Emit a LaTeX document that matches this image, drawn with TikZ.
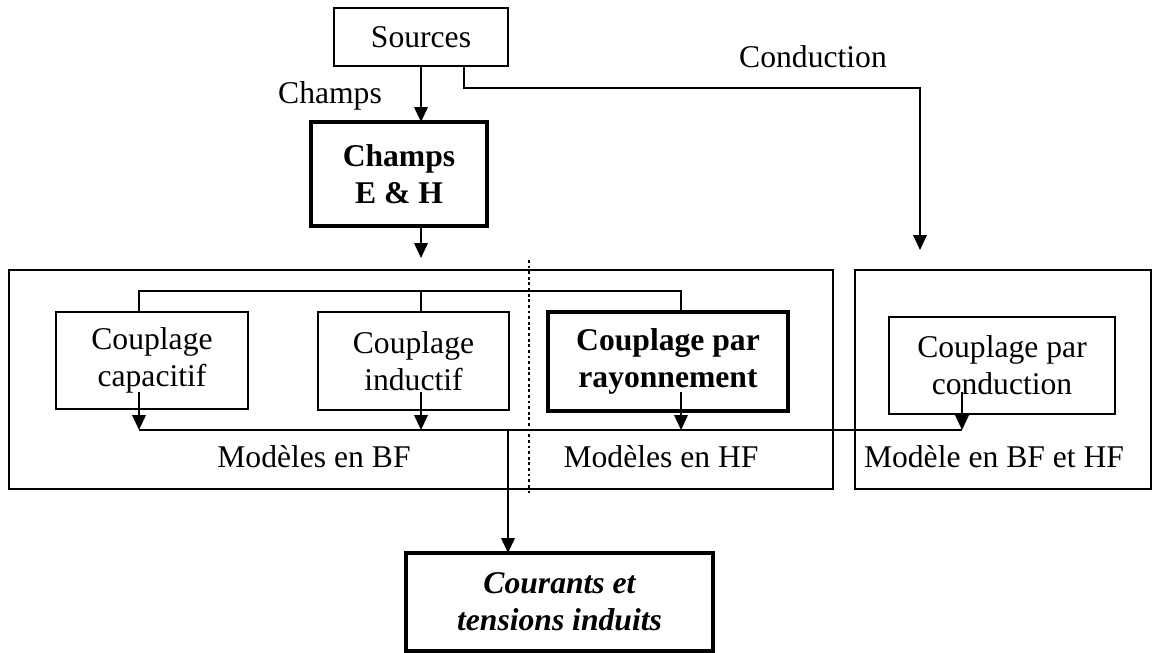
\documentclass[tikz,border=0pt]{standalone}
\usepackage{fontspec}
\setmainfont{Liberation Serif}
\usetikzlibrary{arrows.meta, positioning, calc}

\begin{document}
\begin{tikzpicture}[x=0.02cm, y=-0.02cm,
  every node/.style={font=\fontsize{18}{21}\selectfont, align=center, inner sep=0pt, outer sep=0pt},
  box/.style={draw, line width=1.2pt},
  heavybox/.style={draw, line width=2.5pt, font=\fontsize{18}{21}\selectfont\bfseries},
  link/.style={line width=1.2pt},
  flow/.style={line width=1.2pt, -{Triangle[length=0.3cm, width=0.27cm]}}]
  \useasboundingbox (0,0) rectangle (1155,652);

  % Model zones
  \node[box, minimum width=16.48cm, minimum height=4.38cm] (zoneA) at (421,379.5) {};
  \node[box, minimum width=5.92cm, minimum height=4.38cm] (zoneB) at (1003,379.5) {};
  \draw[line width=1.6pt, dash pattern=on 1.6pt off 1.6pt] (529,260) -- (529,493);

  % Top of the chain
  \node[box, minimum width=3.48cm, minimum height=1.16cm] (src) at (421,37) {Sources};
  \node[heavybox, minimum width=3.52cm, minimum height=2.08cm] (champs) at (399,174) {Champs\\E \& H};
  \node (lblChamps) at (330,96) {Champs};
  \node (lblCond) at (813,57) {Conduction};

  % Coupling modes
  \node[box, minimum width=3.84cm, minimum height=1.94cm] (cap) at (152,360.5) {Couplage\\capacitif};
  \node[box, minimum width=3.82cm, minimum height=1.96cm] (ind) at (413.5,361) {Couplage\\inductif};
  \node[heavybox, minimum width=4.8cm, minimum height=1.98cm] (ray) at (668,361.5) {Couplage par\\rayonnement};
  \node[box, minimum width=4.52cm, minimum height=1.94cm] (cond) at (1002,365.5) {Couplage par\\conduction};

  \node (lblBF) at (314,457) {Modèles en BF};
  \node (lblHF) at (661,457) {Modèles en HF};
  \node (lblBFHF) at (994,457) {Modèle en BF et HF};

  % Result
  \node[heavybox, font=\fontsize{18}{21}\selectfont\bfseries\itshape,
        minimum width=6.14cm, minimum height=1.96cm] (courants) at (559.5,602)
    {Courants et\\tensions induits};

  % Links from the sources
  \coordinate (condTurn) at (464,88);
  \coordinate (condIn) at (920,250);
  \coordinate (fieldIn) at (421,258);
  \draw[flow] (src.south) -- (src.south |- champs.north);
  \draw[flow] (src.south -| condTurn) -- (condTurn) -| (condIn);
  \draw[flow] (champs.south -| fieldIn) -- (fieldIn);

  % Field bus to the coupling boxes
  \coordinate (tapA) at (139,291);
  \coordinate (tapB) at (421,291);
  \coordinate (tapC) at (681,291);
  \draw[link] (tapA |- cap.north) -- (tapA) -- (tapC) -- (tapC |- ray.north);
  \draw[link] (tapB) -- (tapB |- ind.north);

  % Output bus
  \coordinate (sinkA) at (139,430);
  \coordinate (sinkB) at (421,430);
  \coordinate (sinkC) at (681,430);
  \coordinate (sinkD) at (962,430);
  \draw[link] (sinkA) -- (sinkD);
  \foreach \s in {A, B, C, D}
    \draw[flow] (sink\s) ++(0,-38) -- (sink\s);

  \coordinate (outTap) at (508,430);
  \draw[flow] (outTap) -- (outTap |- courants.north);
\end{tikzpicture}
\end{document}
